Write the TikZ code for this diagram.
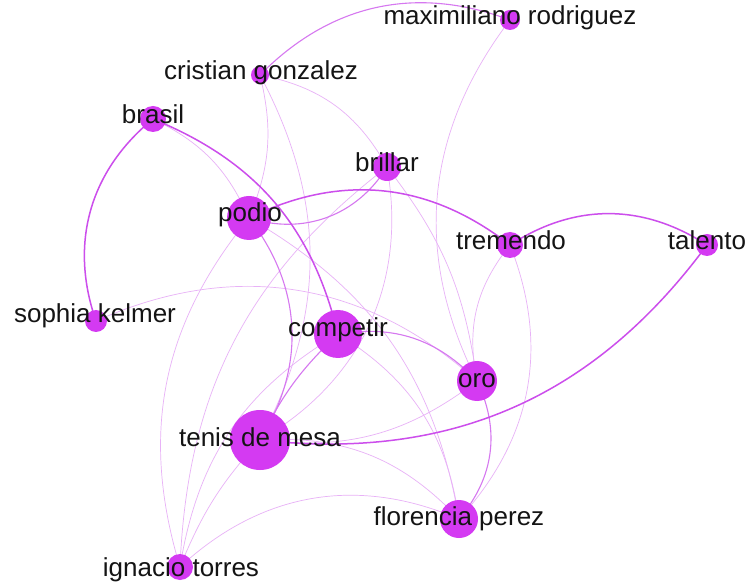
\documentclass[tikz,border=0pt]{standalone}
\usepackage{fontspec}
\setmainfont{Liberation Sans}
\pgfdeclarelayer{bg}
\pgfdeclarelayer{edgelayer}
\pgfsetlayers{bg,edgelayer,main}
\definecolor{nodefill}{RGB}{212,58,242}
\definecolor{edgedark}{RGB}{204,78,236}
\definecolor{edgemid}{RGB}{214,120,240}
\definecolor{edgelight}{RGB}{232,178,247}
\definecolor{labeltext}{RGB}{20,20,20}
\tikzset{
  vertex/.style={circle, fill=nodefill, inner sep=0pt, minimum size=#1},
  lbl/.style={anchor=base, inner sep=0pt, text=labeltext, font=\fontsize{26}{30}\selectfont},
  strongedge/.style={draw=edgedark, line width=1.5pt},
  midedge/.style={draw=edgemid, line width=1.1pt},
  weakedge/.style={draw=edgelight, line width=0.7pt},
}
\begin{document}
\begin{tikzpicture}[x=1pt,y=1pt]
\begin{pgfonlayer}{bg}
\fill[white] (0,0) rectangle (751,581);
\end{pgfonlayer}
\useasboundingbox (0,0) rectangle (751,581);
% nodes
\node[vertex=20pt] (max) at (510,561) {};
\node[vertex=18pt] (cristian) at (260,506) {};
\node[vertex=26pt] (brasil) at (153,462) {};
\node[vertex=28pt] (brillar) at (387,414) {};
\node[vertex=44pt] (podio) at (249,363) {};
\node[vertex=26pt] (tremendo) at (510,336) {};
\node[vertex=22pt] (talento) at (707,336) {};
\node[vertex=22pt] (sophia) at (96,260) {};
\node[vertex=48pt] (competir) at (338,247) {};
\node[vertex=40pt] (oro) at (477,200) {};
\node[vertex=60pt] (tenis) at (260,141) {};
\node[vertex=38pt] (florencia) at (459,62) {};
\node[vertex=26pt] (ignacio) at (180,14) {};
% edges
\begin{pgfonlayer}{edgelayer}
\path[weakedge] (cristian.center) to[bend left=25] (brillar.center);
\path[weakedge] (cristian.center) to[bend left=18] (podio.center);
\path[weakedge] (cristian.center) to[bend left=28] (tenis.center);
\path[weakedge] (max.center) to[bend right=32] (oro.center);
\path[weakedge] (brasil.center) to[bend left=20] (podio.center);
\path[weakedge] (sophia.center) to[bend left=33] (oro.center);
\path[weakedge] (ignacio.center) to[bend left=28] (podio.center);
\path[weakedge] (ignacio.center) to[bend left=10] (tenis.center);
\path[weakedge] (ignacio.center) to[bend left=25] (competir.center);
\path[weakedge] (ignacio.center) to[bend left=33] (florencia.center);
\path[weakedge] (tremendo.center) to[bend right=25] (oro.center);
\path[weakedge] (tremendo.center) to[bend left=32] (florencia.center);
\path[weakedge] (brillar.center) to[bend left=15] (oro.center);
\path[weakedge] (brillar.center) to[bend left=35] (tenis.center);
\path[weakedge] (brillar.center) to[bend right=25] (ignacio.center);
\path[weakedge] (competir.center) to[bend left=25] (florencia.center);
\path[weakedge] (podio.center) to[bend left=25] (florencia.center);
\path[weakedge] (tenis.center) to[bend left=25] (florencia.center);
\path[weakedge] (oro.center) to[bend left=22] (tenis.center);
\path[midedge] (cristian.center) to[bend left=33] (max.center);
\path[midedge] (podio.center) to[bend right=38] (brillar.center);
\path[midedge] (podio.center) to[bend left=35] (tenis.center);
\path[midedge] (competir.center) to[bend left=28] (oro.center);
\path[midedge] (oro.center) to[bend left=33] (florencia.center);
\path[midedge] (competir.center) to[bend right=10] (tenis.center);
\path[strongedge] (brasil.center) to[bend right=35] (sophia.center);
\path[strongedge] (brasil.center) to[bend left=27] (competir.center);
\path[strongedge] (podio.center) to[bend left=32] (tremendo.center);
\path[strongedge] (tremendo.center) to[bend left=33] (talento.center);
\path[strongedge] (talento.center) to[bend left=30] (tenis.center);
\end{pgfonlayer}
% labels
\node[lbl] (max-l) at (510,556) {maximiliano rodriguez};
\node[lbl] (cristian-l) at (261,501) {cristian gonzalez};
\node[lbl] (brasil-l) at (153,457) {brasil};
\node[lbl] (brillar-l) at (387,409) {brillar};
\node[lbl] (podio-l) at (250,359) {podio};
\node[lbl] (tremendo-l) at (511,331) {tremendo};
\node[lbl] (talento-l) at (707,331) {talento};
\node[lbl] (sophia-l) at (95,258) {sophia kelmer};
\node[lbl] (competir-l) at (338,244) {competir};
\node[lbl] (oro-l) at (477,194) {oro};
\node[lbl] (tenis-l) at (260,135) {tenis de mesa};
\node[lbl] (florencia-l) at (459,56) {florencia perez};
\node[lbl] (ignacio-l) at (181,5) {ignacio torres};
\end{tikzpicture}
\end{document}
